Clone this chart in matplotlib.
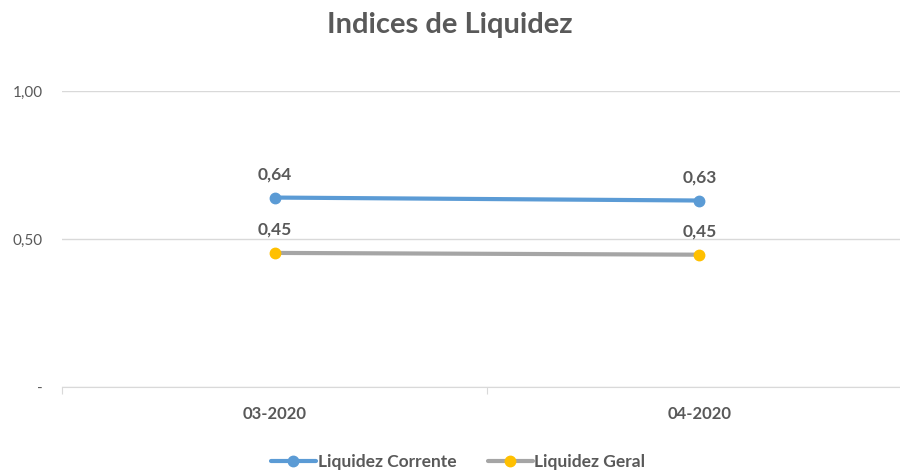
import matplotlib.pyplot as plt
from matplotlib.ticker import FuncFormatter

# Dados
categorias = ['03-2020', '04-2020']
liquidez_corrente = [0.64, 0.63]
liquidez_geral = [0.453, 0.447]
rotulos_corrente = ['0,64', '0,63']
rotulos_geral = ['0,45', '0,45']

plt.rcParams['font.family'] = ['Lato', 'DejaVu Sans']
cor_texto = '#595959'

fig = plt.figure(figsize=(9, 4.73), dpi=100)
ax = fig.add_axes([62 / 900, 86 / 473, 850 / 900, 296 / 473])

x = [0.5, 1.5]
ax.plot(x, liquidez_corrente, color='#5B9BD5', lw=3, marker='o', ms=7.5,
        mfc='#5B9BD5', mec='#5B9BD5', label='Liquidez Corrente', solid_capstyle='round')
ax.plot(x, liquidez_geral, color='#A5A5A5', lw=3, marker='o', ms=7.5,
        mfc='#FFC000', mec='#FFC000', label='Liquidez Geral', solid_capstyle='round')

# rótulos de dados
for xi, yi, t in zip(x, liquidez_corrente, rotulos_corrente):
    ax.annotate(t, (xi, yi), xytext=(0, 11), textcoords='offset points',
                ha='center', va='bottom', fontsize=12.5, fontweight='bold', color=cor_texto)
for xi, yi, t in zip(x, liquidez_geral, rotulos_geral):
    ax.annotate(t, (xi, yi), xytext=(0, 11), textcoords='offset points',
                ha='center', va='bottom', fontsize=12.5, fontweight='bold', color=cor_texto)

ax.set_xlim(0, 2)
ax.set_ylim(0, 1)
ax.set_yticks([0, 0.5, 1.0])
ax.yaxis.set_major_formatter(FuncFormatter(
    lambda v, p: '-' if v == 0 else f'{v:.2f}'.replace('.', ',')))
ax.grid(axis='y', color='#D9D9D9', lw=1)
ax.set_axisbelow(True)

ax.set_xticks([0, 1, 2])
ax.set_xticklabels([])
ax.set_xticks(x, minor=True)
ax.set_xticklabels(categorias, minor=True,
                   fontsize=12, fontweight='bold', color=cor_texto)
ax.tick_params(axis='x', which='major', length=5, color='#D9D9D9', direction='out')
ax.tick_params(axis='x', which='minor', length=0, pad=14)
ax.tick_params(axis='y', length=0, labelsize=11, labelcolor=cor_texto, pad=14)

for s in ['top', 'right', 'left']:
    ax.spines[s].set_visible(False)
ax.spines['bottom'].set_color('#D9D9D9')

fig.text(0.5, 0.948, 'Indices de Liquidez', ha='center', va='center',
         fontsize=21, fontweight='bold', color=cor_texto)

fig.legend(loc='center', bbox_to_anchor=(0.509, 0.024), ncol=2, frameon=False,
           prop={'size': 12.5, 'weight': 'bold'}, labelcolor=cor_texto,
           handlelength=2.6, handletextpad=0.1, columnspacing=1.8)

fig.savefig('out.png', dpi=100, facecolor='white')
